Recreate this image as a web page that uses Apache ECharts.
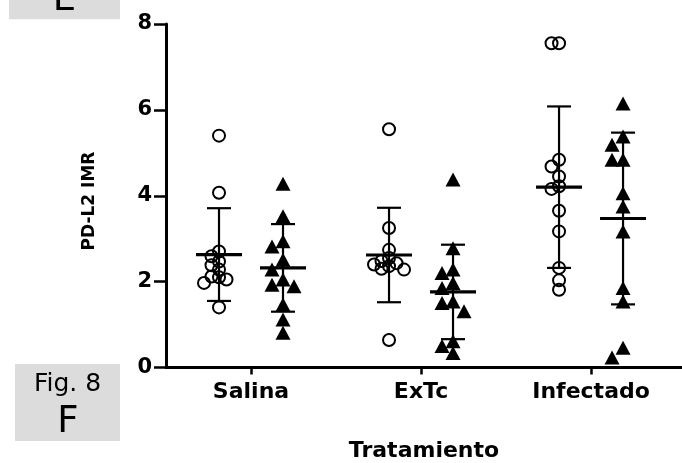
<!DOCTYPE html>
<html>
<head>
<meta charset="utf-8">
<script src="https://cdn.jsdelivr.net/npm/echarts@6/dist/echarts.min.js"></script>
<style>
  html, body { margin: 0; padding: 0; background: #fff; }
  #chart { width: 682px; height: 463px; }
</style>
</head>
<body>
<div id="chart"></div>
<script>
// PD-L2 IMR per treatment group: two cohorts (open circles / filled triangles)
const categories = ['Salina', 'ExTc', 'Infectado'];

const circleValues = [
  [5.40, 4.07, 2.70, 2.59, 2.47, 2.38, 2.28, 2.12, 2.10, 2.05, 1.97, 1.40],
  [5.55, 3.25, 2.74, 2.55, 2.48, 2.43, 2.40, 2.36, 2.30, 2.28, 0.64],
  [7.55, 7.55, 4.84, 4.68, 4.45, 4.22, 4.16, 3.65, 3.17, 2.32, 2.03, 1.81]
];
const triangleValues = [
  [4.28, 3.52, 2.94, 2.82, 2.51, 2.28, 2.05, 1.93, 1.89, 1.47, 1.12, 0.81],
  [4.38, 2.78, 2.28, 2.20, 1.97, 1.85, 1.54, 1.50, 1.31, 0.61, 0.50, 0.34],
  [6.15, 5.38, 5.19, 4.84, 4.84, 4.06, 3.75, 3.17, 1.85, 1.54, 0.46, 0.23]
];

// mean and standard deviation drawn as bars
const circleMean = [2.63, 2.62, 4.20];
const circleSD   = [1.08, 1.10, 1.88];
const triangleMean = [2.32, 1.76, 3.47];
const triangleSD   = [1.02, 1.10, 2.00];

const yTicks = [0, 2, 4, 6, 8];

// plot geometry
const GRID = { left: 166, right: 0, top: 24, bottom: 95.5 };
const W = 682, H = 463;
const X_MAX = 3.035;
const plotW = W - GRID.left - GRID.right;
const plotH = H - GRID.top - GRID.bottom;
const pxPerX = plotW / X_MAX;
const pxPerY = plotH / 8;
const COL_SHIFT = 32 / pxPerX;   // circles left of centre, triangles right

// column-scatter layout: nudge points sideways when they would overlap
function spread(values, centre, gap) {
  const order = values.map((v, i) => i).sort((a, b) => values[b] - values[a]);
  const placed = [];
  const out = new Array(values.length);
  const cands = [0, -gap, gap, -2 * gap, 2 * gap, -3 * gap, 3 * gap];
  order.forEach(i => {
    const py = values[i] * pxPerY;
    let off = 0;
    for (const c of cands) {
      const ok = placed.every(p => Math.hypot(p.x - c, p.y - py) >= gap);
      if (ok) { off = c; break; }
    }
    placed.push({ x: off, y: py });
    out[i] = [centre + off / pxPerX, values[i]];
  });
  return out;
}

const circleData = [], triangleData = [], barData = [];
categories.forEach((c, g) => {
  const cx = g + 0.5;
  circleData.push(...spread(circleValues[g], cx - COL_SHIFT, 7.5));
  triangleData.push(...spread(triangleValues[g], cx + COL_SHIFT, 11));
  barData.push([cx - COL_SHIFT, circleMean[g], circleSD[g]]);
  barData.push([cx + COL_SHIFT, triangleMean[g], triangleSD[g]]);
});

const chart = echarts.init(document.getElementById('chart'), null, { renderer: 'canvas' });

const LABEL_FONT = '"DejaVu Sans", Verdana, sans-serif';

chart.setOption({
  animation: false,
  backgroundColor: '#ffffff',
  grid: {
    left: GRID.left, right: GRID.right, top: GRID.top, bottom: GRID.bottom,
    containLabel: false, outerBoundsMode: 'none'
  },
  xAxis: {
    type: 'value',
    min: 0,
    max: X_MAX,
    splitLine: { show: false },
    axisLine: { show: true, onZero: false, lineStyle: { color: '#000', width: 3 } },
    axisTick: {
      show: true, length: 7, lineStyle: { color: '#000', width: 2.5 },
      customValues: categories.map((c, i) => i + 0.5)
    },
    axisLabel: {
      show: true,
      customValues: categories.map((c, i) => i + 0.5),
      formatter: v => categories[Math.round(v - 0.5)],
      color: '#000', fontFamily: LABEL_FONT, fontWeight: 'bold', fontSize: 22, margin: 14
    },
    name: 'Tratamiento',
    nameLocation: 'middle',
    nameGap: 73,
    nameTextStyle: { color: '#000', fontFamily: LABEL_FONT, fontWeight: 'bold', fontSize: 22 }
  },
  yAxis: {
    type: 'value',
    min: 0,
    max: 8,
    interval: 2,
    splitLine: { show: false },
    axisLine: { show: true, lineStyle: { color: '#000', width: 3 } },
    axisTick: { show: true, length: 12, lineStyle: { color: '#000', width: 2.5 } },
    axisLabel: {
      color: '#000', fontFamily: LABEL_FONT, fontWeight: 'bold', fontSize: 21, margin: 14,
      formatter: v => (yTicks.includes(v) ? String(v) : '')
    }
  },
  series: [
    {
      type: 'custom',
      name: 'mean ± SD',
      z: 1,
      data: barData,
      renderItem: (params, api) => {
        const x = api.value(0), m = api.value(1), sd = api.value(2);
        const c = api.coord([x, m]);
        const t = api.coord([x, m + sd]);
        const b = api.coord([x, m - sd]);
        const capW = 12, meanW = 23;
        const st = { stroke: '#000', lineWidth: 2.2 };
        return {
          type: 'group',
          children: [
            { type: 'line', shape: { x1: c[0], y1: t[1], x2: c[0], y2: b[1] }, style: st },
            { type: 'line', shape: { x1: c[0] - capW, y1: t[1], x2: c[0] + capW, y2: t[1] }, style: st },
            { type: 'line', shape: { x1: c[0] - capW, y1: b[1], x2: c[0] + capW, y2: b[1] }, style: st },
            { type: 'line', shape: { x1: c[0] - meanW, y1: c[1], x2: c[0] + meanW, y2: c[1] },
              style: { stroke: '#000', lineWidth: 3.2 } }
          ]
        };
      }
    },
    {
      type: 'scatter',
      name: 'circles',
      z: 2,
      symbol: 'circle',
      symbolSize: 12,
      data: circleData,
      itemStyle: { color: 'rgba(255,255,255,0)', borderColor: '#000', borderWidth: 2, opacity: 1 }
    },
    {
      type: 'scatter',
      name: 'triangles',
      z: 3,
      symbol: 'triangle',
      symbolSize: [15, 14],
      data: triangleData,
      itemStyle: { color: '#000', opacity: 1 }
    }
  ],
  graphic: [
    { type: 'text', x: 90, y: 201, rotation: Math.PI / 2,
      style: { text: 'PD-L2 IMR', fill: '#000', font: 'bold 17px "DejaVu Sans", Verdana, sans-serif', align: 'center', verticalAlign: 'middle' } },
    { type: 'rect', left: 9, top: 0, shape: { x: 0, y: 0, width: 111, height: 19.3 }, style: { fill: '#dcdcdc' }, z: 0 },
    { type: 'text', x: 64.5, y: 0.6, style: { text: 'E', fill: '#000', font: '37px "DejaVu Sans", sans-serif', align: 'center', verticalAlign: 'middle' }, z: 1 },
    { type: 'rect', left: 15, top: 364, shape: { x: 0, y: 0, width: 105, height: 77 }, style: { fill: '#dcdcdc' }, z: 0 },
    { type: 'text', x: 67.5, y: 384, style: { text: 'Fig. 8', fill: '#000', font: '25px "DejaVu Sans", sans-serif', align: 'center', verticalAlign: 'middle' }, z: 1 },
    { type: 'text', x: 68, y: 422, style: { text: 'F', fill: '#000', font: '37px "DejaVu Sans", sans-serif', align: 'center', verticalAlign: 'middle' }, z: 1 }
  ]
});
</script>
</body>
</html>
